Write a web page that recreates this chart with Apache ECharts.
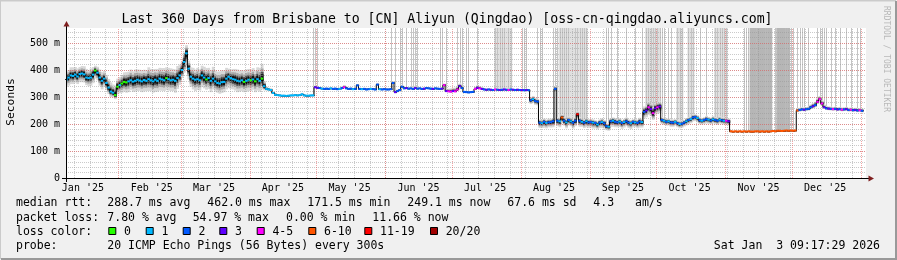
<!DOCTYPE html>
<html><head><meta charset="utf-8">
<script src="https://cdn.jsdelivr.net/npm/echarts@6/dist/echarts.min.js"></script>
<style>html,body{margin:0;padding:0;background:#f0f0f0}#c{width:897px;height:260px}</style>
</head><body><div id="c"></div>
<script>
// ---------- DATA ----------
const titleText = "Last 360 Days from Brisbane to [CN] Aliyun (Qingdao) [oss-cn-qingdao.aliyuncs.com]";
const startStamp = Date.UTC(2025,0,8,9,17,29);   // graph start (360 days before end)
const endStamp   = Date.UTC(2026,0,3,9,17,29);
const YMAX = 555.6;
const yTicks = [0,100,200,300,400,500];

const monthStarts = ['2025-02-01','2025-03-01','2025-04-01','2025-05-01','2025-06-01','2025-07-01','2025-08-01','2025-09-01','2025-10-01','2025-11-01','2025-12-01','2026-01-01'];
const monthLabelDates = ['2025-01-16','2025-02-16','2025-03-16','2025-04-16','2025-05-16','2025-06-16','2025-07-16','2025-08-16','2025-09-16','2025-10-16','2025-11-16','2025-12-16'];
const monthLabels = ["Jan '25","Feb '25","Mar '25","Apr '25","May '25","Jun '25","Jul '25","Aug '25","Sep '25","Oct '25","Nov '25","Dec '25"];
const firstWeekLine = '2025-01-12';

// median rtt (ms) per day
const rttJan = [365,372,380,378,383,376,385,387,384,372,370,372,383,398,390,372,360,368,352,335,320,316,307,338];
const rttFeb = [344,350,356,354,358,362,357,360,364,361,358,363,360,366,362,358,364,360,368,365,362,370,366,362,364,360,370,380];
const rttMar = [400,430,462,405,375,368,364,366,362,380,372,365,370,360,368,358,352,350,355,356,368,375,370,366,364,360,358,362,356,360,364];
const rttApr = [362,365,358,366,360,368,340,330,328,326,315,308,307,306,305,305,304,305,306,306,307,306,307,310,306,305,305,306,306,336];
const rttMay = [334,333,331,330,331,330,332,330,331,329,330,333,336,332,330,331,329,330,343,330,329,330,328,329,330,329,328,346,329,328,329];
const rttJun = [328,328,329,352,318,322,326,338,332,333,331,332,330,333,331,332,330,331,333,332,331,330,332,331,330,331,344,322,321,320];
const rttJul = [322,321,328,340,333,319,318,317,318,319,330,334,332,330,328,327,328,327,326,328,327,326,327,328,327,326,328,327,326,327,326];
const rttAug = [326,325,326,325,288,292,285,283,205,203,208,204,206,207,210,330,212,210,224,212,206,215,210,205,212,236,212,208,205,210,206];
const rttSep = [207,205,204,198,205,207,203,192,190,210,212,208,206,209,204,207,210,205,203,208,206,204,209,207,245,250,262,255,240,258];
const rttOct = [262,265,215,212,208,210,206,205,208,203,200,201,205,210,215,218,224,226,222,214,212,215,218,216,213,217,215,212,216,214,212];
const rttNov = [212,210,173,172,173,172,173,172,173,172,173,172,172,173,173,172,173,172,173,172,173,174,173,175,175,174,175,176,175,176];
const rttDec = [175,176,250,252,254,253,255,256,262,266,270,282,292,276,262,258,257,256,255,256,254,255,253,254,255,252,253,251,252,250,251];
const rttJan26 = [249];

// smoke spread above / below the median (ms)
const upJan = [30,28,30,32,28,30,26,28,30,32,30,34,28,18,22,30,32,28,30,32,34,30,36,30];
const dnJan = [28,30,32,30,30,28,30,32,30,28,30,30,32,30,28,30,32,30,26,24,20,18,15,28];
const upFeb = [30,32,35,38,36,40,38,42,38,40,42,38,40,44,42,45,40,44,40,42,45,40,42,44,40,42,45,40];
const dnFeb = [30,34,36,38,40,36,38,40,42,38,40,42,38,44,40,42,45,40,44,42,40,44,42,40,42,44,40,35];
const upMar = [30,35,30,30,35,40,38,42,40,36,40,42,38,40,44,40,42,45,44,42,40,30,32,38,40,42,40,38,40,42,40];
const dnMar = [30,40,45,40,38,40,42,40,38,42,40,38,40,42,40,38,36,38,40,38,40,42,40,38,40,42,38,40,38,40,42];
const upApr = [40,42,40,44,48,55,20,8,6,6,5,4,3,3,3,3,3,3,3,3,3,3,3,4,3,3,3,3,3,6];
const dnApr = [40,38,40,42,40,40,15,6,5,5,4,3,3,3,3,3,3,3,3,3,3,3,3,3,3,3,3,3,3,4];
const upMay = [6,4,4,4,4,4,4,4,4,4,4,6,8,6,4,4,4,4,5,4,4,4,4,4,4,4,4,5,4,4,4];
const dnMay = [5,3,3,3,3,3,3,3,3,3,3,3,3,3,3,3,3,3,3,3,3,3,3,3,3,3,3,3,3,3,3];
const upJun = [4,4,4,6,8,6,4,5,4,4,4,4,4,4,4,4,4,4,4,4,4,4,4,4,4,4,6,8,10,12];
const dnJun = [3,3,3,3,4,4,3,3,3,3,3,3,3,3,3,3,3,3,3,3,3,3,3,3,3,3,3,4,4,4];
const upJul = [12,14,12,10,8,4,4,4,4,4,8,10,8,6,4,4,4,4,4,4,4,4,4,4,4,4,4,4,4,4,4];
const dnJul = [4,4,4,4,4,3,3,3,3,3,3,3,3,3,3,3,3,3,3,3,3,3,3,3,3,3,3,3,3,3,3];
const upAug = [4,4,4,4,10,12,12,10,12,14,12,12,14,12,12,10,12,14,12,14,12,12,14,12,12,10,12,14,12,12,12];
const dnAug = [3,3,3,3,14,14,14,14,20,18,22,20,18,20,22,10,20,22,20,18,22,20,18,22,20,20,22,18,20,22,20];
const upSep = [12,12,10,12,12,14,12,10,12,12,12,14,12,12,10,12,14,12,12,10,12,12,14,12,20,20,22,24,22,20];
const dnSep = [20,22,20,18,20,22,20,15,15,20,22,20,18,20,22,20,18,20,22,20,18,20,22,20,25,25,28,25,25,24];
const upOct = [20,18,10,10,12,10,10,12,10,10,12,10,10,12,10,10,12,10,10,12,10,10,12,10,10,12,10,10,12,10,12];
const dnOct = [25,25,15,15,14,15,16,15,14,15,16,15,14,15,16,15,14,15,16,15,14,15,16,15,14,15,16,15,14,15,14];
const upNov = [10,10,2,2,2,2,2,2,2,2,2,2,2,2,2,2,2,2,2,2,2,2,2,2,2,2,2,2,2,2];
const dnNov = [15,15,2,2,2,2,2,2,2,2,2,2,2,2,2,2,2,2,2,2,2,2,2,2,2,2,2,2,2,2];
const upDec = [2,2,8,8,8,8,8,8,10,12,12,14,12,12,10,8,8,8,8,8,8,8,8,8,8,8,8,8,8,8,8];
const dnDec = [2,2,6,6,6,6,6,6,6,8,8,8,8,8,6,6,6,6,6,6,6,6,6,6,6,6,6,6,6,6,6];
const upJan26 = [8];
const dnJan26 = [6];

// loss class per day (index into lossColors)
const lossJan = "111111111111101111111100";
const lossFeb = "1000111111111111111110111111";
const lossMar = "1111111111101111111111111111011";
const lossApr = "010110111111111111111111111113";
const lossMay = "3212221222124222122212221222122";
const lossJun = "222232222322232223222322234344";
const lossJul = "3443222222434323232423232423232";
const lossAug = "3232212221212222215212122621212";
const lossSep = "212121221212212122121221234343";
const lossOct = "4321212212122121221212212122121";
const lossNov = "435555555555555555555555555555";
const lossDec = "5552232223244432324232423242324";
const lossJan26 = "2";

const lossColors = ['#26ff00','#00b8ff','#0059ff','#5e00ff','#ff00ff','#ff5500','#ff0000','#a00000'];
const lossLabels = ['0','1','2','3','4-5','6-10','11-19','20/20'];

// days where smoke reaches the top of the graph
const spikeDates = ['2025-04-29','2025-04-30','2025-05-01',
 '2025-06-03','2025-06-05','2025-06-07','2025-06-08','2025-06-10','2025-06-12','2025-06-13','2025-06-14','2025-06-15','2025-06-25','2025-06-26','2025-06-28',
 '2025-07-03','2025-07-04','2025-07-05','2025-07-07','2025-07-08','2025-07-12','2025-07-20','2025-07-21','2025-07-22','2025-07-23','2025-07-24','2025-07-26','2025-07-27',
 '2025-08-01','2025-08-02','2025-08-03','2025-08-08','2025-08-09','2025-08-10','2025-08-15','2025-08-16','2025-08-17','2025-08-18','2025-08-19','2025-08-20','2025-08-21','2025-08-22','2025-08-25','2025-08-26','2025-08-27','2025-08-28','2025-08-29','2025-08-30',
 '2025-09-08','2025-09-09','2025-09-10','2025-09-13','2025-09-17','2025-09-21','2025-09-24','2025-09-26','2025-09-27','2025-09-28','2025-09-29','2025-09-30',
 '2025-10-01','2025-10-02','2025-10-03','2025-10-04','2025-10-06','2025-10-07','2025-10-10','2025-10-11','2025-10-12','2025-10-15','2025-10-16','2025-10-17','2025-10-20','2025-10-23','2025-10-27','2025-10-28','2025-10-29','2025-10-30','2025-10-31',
 '2025-11-01','2025-11-09','2025-11-10','2025-11-11','2025-11-23','2025-11-30',
 '2025-12-01','2025-12-03','2025-12-04','2025-12-05','2025-12-06','2025-12-08','2025-12-12','2025-12-13','2025-12-14','2025-12-15','2025-12-16','2025-12-18','2025-12-20','2025-12-22','2025-12-25','2025-12-27','2025-12-30','2025-12-31'];
// runs of days with dense smoke to the top: [first, last, shade]
const smokeRuns = [['2025-07-20','2025-07-27',0],['2025-08-18','2025-08-30',0],['2025-09-26','2025-10-02',0],
 ['2025-10-10','2025-10-12',0],['2025-10-15','2025-10-17',0],['2025-10-27','2025-11-01',0],
 ['2025-11-12','2025-11-21',1],['2025-11-24','2025-11-29',1]];

const statRow1 = [[16,'median rtt:'],[107.3,'288.7 ms avg'],[207.3,'462.0 ms max'],[307.3,'171.5 ms min'],[407.3,'249.1 ms now'],[507.3,'67.6 ms sd'],[593.3,'4.3'],[635,'am/s']];
const statRow2 = [[16,'packet loss:'],[107.3,'7.80 % avg'],[192.7,'54.97 % max'],[286,'0.00 % min'],[372.3,'11.66 % now']];
const probeText = '20 ICMP Echo Pings (56 Bytes) every 300s';
const stampText = 'Sat Jan  3 09:17:29 2026';

// ---------- BUILD ----------
const DAY = 864e5;
const SPAN = (endStamp - startStamp) / DAY;   // 360
const dayOf = s => (Date.parse(s + 'T00:00:00Z') - startStamp) / DAY;
const FONT = "'DejaVu Sans Mono','Liberation Mono',monospace";

const monthTable = [
  ['2025-01-08', rttJan, upJan, dnJan, lossJan], ['2025-02-01', rttFeb, upFeb, dnFeb, lossFeb],
  ['2025-03-01', rttMar, upMar, dnMar, lossMar], ['2025-04-01', rttApr, upApr, dnApr, lossApr],
  ['2025-05-01', rttMay, upMay, dnMay, lossMay], ['2025-06-01', rttJun, upJun, dnJun, lossJun],
  ['2025-07-01', rttJul, upJul, dnJul, lossJul], ['2025-08-01', rttAug, upAug, dnAug, lossAug],
  ['2025-09-01', rttSep, upSep, dnSep, lossSep], ['2025-10-01', rttOct, upOct, dnOct, lossOct],
  ['2025-11-01', rttNov, upNov, dnNov, lossNov], ['2025-12-01', rttDec, upDec, dnDec, lossDec],
  ['2026-01-01', rttJan26, upJan26, dnJan26, lossJan26]
];
const pts = [];
monthTable.forEach(([first, r, u, d, l]) => {
  const d0 = dayOf(first);
  r.forEach((v, i) => pts.push({x0: d0 + i, x1: d0 + i + 1, rtt: v, up: u[i], dn: d[i], loss: +l[i]}));
});
const ptAt = x => pts.find(p => p.x0 <= x && p.x1 > x);

const gridItems = [];
for (let d = dayOf(firstWeekLine); d < SPAN; d += 7) gridItems.push([d, 0]);
monthStarts.forEach(s => gridItems.push([dayOf(s), 1]));
const labelDays = monthLabelDates.map(dayOf);

const runItems = [];
smokeRuns.forEach(([a, b, shade]) => {
  for (let d = dayOf(a); d <= dayOf(b) + 0.01; d += 1) {
    const p = ptAt(d + 0.5);
    if (p) runItems.push([d, d + 1, p.rtt + p.up, shade]);
  }
});
const spikeItems = spikeDates.map(s => { const x = dayOf(s) + 0.5; const p = ptAt(x); return [x, p.rtt + p.up]; });

const smokeShades = [[1, '#d8d8d8'], [0.68, '#a8a8a8'], [0.45, '#555555'], [0.3, '#111111']];
const runShades = ['#e0e0e0', '#b6b6b6'];
const minorC = 'rgba(150,150,150,0.5)', majorC = 'rgba(235,90,90,0.55)';

const clipX = v => Math.min(Math.max(v, 0), SPAN);

const chart = echarts.init(document.getElementById('c'), null, {renderer: 'canvas'});
chart.setOption({
  backgroundColor: '#f0f0f0',
  animation: false,
  grid: {left: 66, right: 31, top: 28, bottom: 82, show: true, backgroundColor: '#ffffff', borderWidth: 0},
  xAxis: {
    type: 'value', min: 0, max: SPAN, z: 4,
    axisLine: {show: true, lineStyle: {color: '#000', width: 1}},
    axisTick: {show: false},
    splitLine: {show: false},
    axisLabel: {
      customValues: labelDays, margin: 5, color: '#000', fontFamily: FONT, fontSize: 10,
      formatter: v => { let bi = 0; labelDays.forEach((d, i) => { if (Math.abs(d - v) < Math.abs(labelDays[bi] - v)) bi = i; }); return monthLabels[bi]; }
    }
  },
  yAxis: [{
    type: 'value', min: 0, max: YMAX, interval: 100, z: 4,
    axisLine: {show: true, lineStyle: {color: '#000', width: 1}},
    axisTick: {show: false},
    axisLabel: {color: '#000', fontFamily: FONT, fontSize: 10, margin: 6, showMaxLabel: false,
      formatter: v => yTicks.includes(v) ? (v === 0 ? '0' : v + ' m') : ''},
    splitLine: {show: true, showMinLine: false, showMaxLine: false, lineStyle: {color: majorC, type: [1, 1], width: 1}}
  }, {
    type: 'value', min: 0, max: YMAX, interval: 20, z: 3,
    axisLine: {show: false}, axisTick: {show: false}, axisLabel: {show: false},
    splitLine: {show: true, showMinLine: false, showMaxLine: false, lineStyle: {color: minorC, type: [1, 1], width: 1}}
  }],
  series: [
    { // dense smoke runs reaching top
      type: 'custom', z: 1, silent: true, encode: {x: [0, 1], y: 2},
      data: runItems,
      renderItem(params, api) {
        const x0 = clipX(api.value(0)), x1 = clipX(api.value(1));
        if (x1 <= x0) return null;
        const a = api.coord([x0, YMAX]), b = api.coord([x1, api.value(2)]);
        return {type: 'rect', shape: {x: a[0], y: a[1], width: b[0] - a[0] + 0.5, height: b[1] - a[1]}, style: {fill: runShades[api.value(3)]}};
      }
    },
    { // single smoke spikes reaching top
      type: 'custom', z: 1, silent: true, encode: {x: 0, y: 1},
      data: spikeItems,
      renderItem(params, api) {
        const a = api.coord([api.value(0), api.value(1)]), b = api.coord([api.value(0), YMAX]);
        const x = Math.round(a[0]) + 0.5;
        return {type: 'line', shape: {x1: x, y1: a[1], x2: x, y2: b[1]}, style: {stroke: '#c4c4c4', lineWidth: 1}};
      }
    },
    { // smoke
      type: 'custom', z: 2, silent: true, encode: {x: [0, 1], y: 2},
      data: pts.map(p => [p.x0, p.x1, p.rtt, p.up, p.dn]),
      renderItem(params, api) {
        const x0 = clipX(api.value(0)), x1 = clipX(api.value(1));
        if (x1 <= x0) return null;
        const r = api.value(2), u = api.value(3), dn = api.value(4);
        return {type: 'group', children: smokeShades.map(([f, c]) => {
          const a = api.coord([x0, Math.min(r + u * f, YMAX)]), b = api.coord([x1, r - dn * f]);
          return {type: 'rect', shape: {x: a[0], y: a[1], width: b[0] - a[0] + 0.6, height: Math.max(b[1] - a[1], 1)}, style: {fill: c}};
        })};
      }
    },
    { // vertical grid (weeks minor, months major)
      type: 'custom', z: 3, silent: true, encode: {x: 0, y: 1},
      data: gridItems,
      renderItem(params, api) {
        const a = api.coord([api.value(0), 0]), b = api.coord([api.value(0), YMAX]);
        const x = Math.round(a[0]) + 0.5;
        const major = api.value(1) === 1;
        return {type: 'line', shape: {x1: x, y1: a[1], x2: x, y2: b[1]}, style: {stroke: major ? majorC : minorC, lineWidth: 1, lineDash: [1, 1]}};
      }
    },
    { // median step line
      type: 'line', z: 5, silent: true, step: 'end', showSymbol: false, symbol: 'none',
      lineStyle: {color: '#000', width: 1},
      data: pts.map(p => [p.x0, p.rtt]).concat([[pts[pts.length - 1].x1, pts[pts.length - 1].rtt]])
    },
    { // median coloured by loss
      type: 'custom', z: 6, silent: true, encode: {x: [0, 1], y: 2},
      data: pts.map(p => [p.x0, p.x1, p.rtt, p.loss]),
      renderItem(params, api) {
        const x0 = clipX(api.value(0)), x1 = clipX(api.value(1));
        if (x1 <= x0) return null;
        const a = api.coord([x0, api.value(2)]), b = api.coord([x1, api.value(2)]);
        return {type: 'rect', shape: {x: a[0], y: a[1] - 1, width: b[0] - a[0] + 0.3, height: 2}, style: {fill: lossColors[api.value(3)]}};
      }
    }
  ],
  graphic: [
    {type: 'text', x: 447, y: 19.3, style: {text: titleText, font: '13.2px ' + FONT, fill: '#000', align: 'center', verticalAlign: 'middle'}},
    {type: 'text', x: 11, y: 102, rotation: Math.PI / 2, style: {text: 'Seconds', font: '11.3px ' + FONT, fill: '#000', align: 'center', verticalAlign: 'middle'}},
    {type: 'text', x: 886.5, y: 59, rotation: -Math.PI / 2, style: {text: 'RRDTOOL / TOBI OETIKER', font: '8px ' + FONT, fill: '#b8b8b8', align: 'center', verticalAlign: 'middle'}},
    // axis extensions and arrows
    {type: 'line', z: 10, shape: {x1: 62, y1: 178.5, x2: 869, y2: 178.5}, style: {stroke: '#000', lineWidth: 1}},
    {type: 'line', z: 10, shape: {x1: 66.5, y1: 182, x2: 66.5, y2: 25}, style: {stroke: '#000', lineWidth: 1}},
    {type: 'polygon', z: 10, shape: {points: [[66.5, 21], [63.5, 26.5], [69.5, 26.5]]}, style: {fill: '#7f1f1f'}},
    {type: 'polygon', z: 10, shape: {points: [[874, 178.5], [868.5, 175.5], [868.5, 181.5]]}, style: {fill: '#7f1f1f'}},
    // frame
    {type: 'polyline', shape: {points: [[0, 259], [0, 0.5], [896, 0.5]]}, style: {stroke: '#cbcbcb', lineWidth: 2, fill: null}},
    {type: 'polyline', shape: {points: [[1, 259], [896, 259], [896, 1]]}, style: {stroke: '#999999', lineWidth: 2, fill: null}},
  ].concat(
    statRow1.map(([x, t]) => ({type: 'text', x, y: 203.3, style: {text: t, font: '11.5px ' + FONT, fill: '#000', verticalAlign: 'middle'}})),
    statRow2.map(([x, t]) => ({type: 'text', x, y: 217.7, style: {text: t, font: '11.5px ' + FONT, fill: '#000', verticalAlign: 'middle'}})),
    [{type: 'text', x: 16, y: 232, style: {text: 'loss color:', font: '11.5px ' + FONT, fill: '#000', verticalAlign: 'middle'}}],
    [108.3, 145.7, 182.7, 219.3, 256.7, 308.3, 364.3, 430].map((x, i) => ({type: 'rect', shape: {x: x + 0.5, y: 227.5, width: 7, height: 7}, style: {fill: lossColors[i], stroke: '#000', lineWidth: 1}})),
    [108.3, 145.7, 182.7, 219.3, 256.7, 308.3, 364.3, 430].map((x, i) => ({type: 'text', x: x + 15.7, y: 232, style: {text: lossLabels[i], font: '11.5px ' + FONT, fill: '#000', verticalAlign: 'middle'}})),
    [{type: 'text', x: 16, y: 246.5, style: {text: 'probe:', font: '11.5px ' + FONT, fill: '#000', verticalAlign: 'middle'}},
     {type: 'text', x: 107.3, y: 246.5, style: {text: probeText, font: '11.5px ' + FONT, fill: '#000', verticalAlign: 'middle'}},
     {type: 'text', x: 880, y: 246.5, style: {text: stampText, font: '11.5px ' + FONT, fill: '#000', align: 'right', verticalAlign: 'middle'}}]
  )
});
</script></body></html>
